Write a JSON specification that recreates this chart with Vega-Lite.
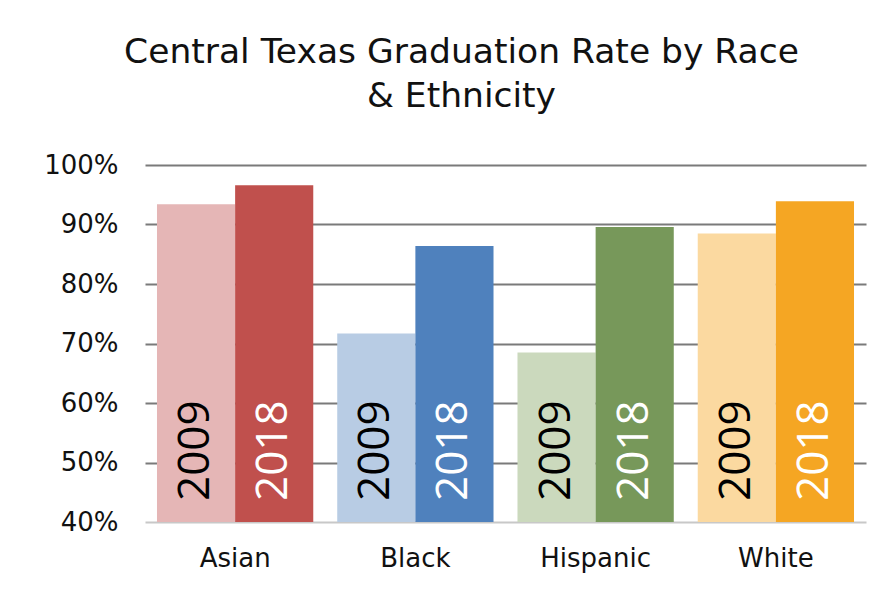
{
  "$schema": "https://vega.github.io/schema/vega-lite/v6.json",
  "autosize": "none",
  "width": 721,
  "height": 357,
  "padding": {"left": 145, "top": 165, "right": 28, "bottom": 74},
  "background": "white",
  "title": {
    "text": ["Central Texas Graduation Rate by Race", "& Ethnicity"],
    "font": "DejaVu Sans",
    "fontSize": 34.5,
    "fontWeight": "normal",
    "color": "#111111",
    "anchor": "middle",
    "dx": -44,
    "offset": 38,
    "lineHeight": 44
  },
  "config": {
    "view": {"stroke": null},
    "axis": {"labelFont": "DejaVu Sans", "labelColor": "#111111", "labelFontSize": 26}
  },
  "data": {
    "values": [
      {"race": "Asian", "year": "2009", "series": "Asian 2009", "rate": 93.4},
      {"race": "Asian", "year": "2018", "series": "Asian 2018", "rate": 96.6},
      {"race": "Black", "year": "2009", "series": "Black 2009", "rate": 71.7},
      {"race": "Black", "year": "2018", "series": "Black 2018", "rate": 86.4},
      {"race": "Hispanic", "year": "2009", "series": "Hispanic 2009", "rate": 68.5},
      {"race": "Hispanic", "year": "2018", "series": "Hispanic 2018", "rate": 89.6},
      {"race": "White", "year": "2009", "series": "White 2009", "rate": 88.5},
      {"race": "White", "year": "2018", "series": "White 2018", "rate": 93.9}
    ]
  },
  "encoding": {
    "x": {
      "field": "race",
      "type": "nominal",
      "sort": ["Asian", "Black", "Hispanic", "White"],
      "scale": {"paddingInner": 0.133, "paddingOuter": 0.0665},
      "axis": {"title": null, "labelAngle": 0, "ticks": false, "domain": false, "labelPadding": 23}
    },
    "xOffset": {
      "field": "year",
      "type": "nominal",
      "sort": ["2009", "2018"],
      "scale": {"paddingInner": 0, "paddingOuter": 0}
    }
  },
  "layer": [
    {
      "mark": {"type": "bar", "clip": true},
      "encoding": {
        "y": {
          "field": "rate",
          "type": "quantitative",
          "scale": {"domain": [40, 100], "nice": false, "zero": false},
          "axis": {
            "title": null,
            "values": [40, 50, 60, 70, 80, 90, 100],
            "labelExpr": "datum.value + '%'",
            "ticks": false,
            "domain": false,
            "labelPadding": 27,
            "grid": true,
            "gridWidth": 2,
            "gridColor": {"condition": {"test": "datum.value == 40", "value": "#c8c8c8"}, "value": "#7a7a7a"}
          }
        },
        "y2": {"datum": 40},
        "color": {
          "field": "series",
          "type": "nominal",
          "legend": null,
          "scale": {
            "domain": ["Asian 2009", "Asian 2018", "Black 2009", "Black 2018", "Hispanic 2009", "Hispanic 2018", "White 2009", "White 2018"],
            "range": ["#e5b6b6", "#c0504d", "#b8cce4", "#4f81bd", "#cbd9bd", "#77985a", "#fbd9a0", "#f5a623"]
          }
        }
      }
    },
    {
      "mark": {"type": "text", "angle": 270, "align": "left", "baseline": "middle", "dx": 21, "font": "Open Sans", "fontSize": 44},
      "encoding": {
        "y": {"datum": 40},
        "text": {"field": "year"},
        "color": {"condition": {"test": "datum.year == '2009'", "value": "#000000"}, "value": "#ffffff"}
      }
    }
  ]
}
